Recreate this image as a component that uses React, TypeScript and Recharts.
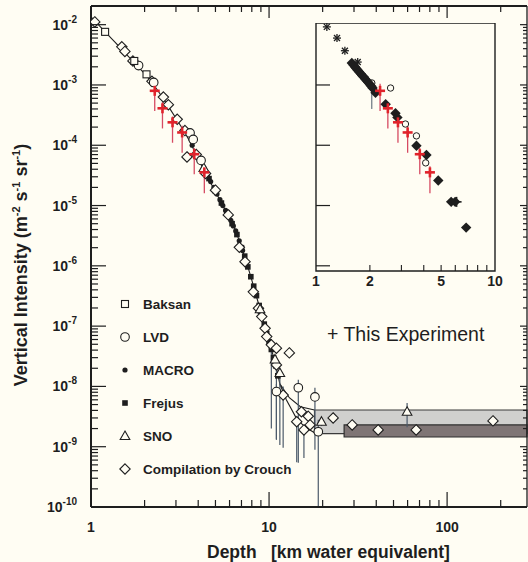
import React from 'react';
import { ComposedChart, Scatter, Line, XAxis, YAxis, ErrorBar, ReferenceArea, Legend } from 'recharts';

const FONT = '"Liberation Sans", Arial, Helvetica, sans-serif';
const BG = '#fffdf3';
const INK = '#1e1e1e';
const RED = '#e0232b';
const RED_BAR = '#d64a62';
const BAR = '#4c5a6a';

// ---------- axes ----------
const X_DOMAIN = [1, 281];
const Y_DOMAIN = [1e-10, 0.0204];
const X_TICKS = [1, 2, 3, 4, 5, 6, 7, 8, 9, 10, 20, 30, 40, 50, 60, 70, 80, 90, 100, 200];
const X_LABELS = [1, 10, 100];
const Y_DECADES = [1e-10, 1e-9, 1e-8, 1e-7, 1e-6, 1e-5, 1e-4, 1e-3, 1e-2];
const MINOR_MULTS = [2, 3, 4, 5, 6, 7, 8, 9];
const Y_TICKS = [...Y_DECADES, ...Y_DECADES.slice(0, -1).flatMap((dec) => MINOR_MULTS.map((m) => m * dec))].sort((a, b) => a - b);

const INSET_X_DOMAIN = [1, 10];
const INSET_Y_DOMAIN = [8.2e-7, 0.01067];
const INSET_X_TICKS = [1, 2, 3, 4, 5, 6, 7, 8, 9, 10];
const INSET_X_LABELS = [1, 2, 5, 10];
const INSET_Y_TICKS = [1e-6, 1e-5, 1e-4, 1e-3];

// ---------- data (depth in km w.e., vertical intensity) ----------
const fitDepth = [1.0, 1.2, 1.5, 1.8, 2.2, 2.6, 3.0, 3.5, 4.0, 4.5, 5.0, 5.5, 6.0, 6.5, 7.0, 7.5, 8.0, 8.5, 9.0, 9.5, 10.0, 10.5, 11.0, 11.5];
const fitI = [1.35e-2, 7.6e-3, 3.8e-3, 2.15e-3, 1.1e-3, 5.4e-4, 2.8e-4, 1.32e-4, 6.0e-5, 3.0e-5, 1.7e-5, 1.0e-5, 6.2e-6, 3.8e-6, 2.0e-6, 1.1e-6, 5.8e-7, 3.1e-7, 1.7e-7, 9.5e-8, 5.6e-8, 3.4e-8, 2.0e-8, 1.1e-8];
const fitUpperDepth = [11.5, 13.0, 15.0, 18.0];
const fitUpperI = [1.1e-8, 6.5e-9, 4.6e-9, 4.06e-9];
const fitLowerDepth = [11.5, 12.5, 14.3, 16.0, 18.0];
const fitLowerI = [1.1e-8, 6.0e-9, 2.9e-9, 2.1e-9, 1.7e-9];

const bandLightDepth = [18, 281];
const bandLightI = [1.65e-9, 4.06e-9];
const bandDarkDepth = [26.4, 281];
const bandDarkI = [1.45e-9, 2.3e-9];

const baksanDepth = [1.2, 1.75, 2.05];
const baksanI = [7.6e-3, 2.5e-3, 1.5e-3];

const lvdDepth = [1.85, 2.25, 3.6, 3.75, 4.15, 11.0, 14.6, 18.1, 18.9];
const lvdI = [2.1e-3, 1.1e-3, 1.6e-4, 1.25e-4, 5.6e-5, 8.2e-9, 9.5e-9, 6.7e-9, 1.77e-9];
const lvdLow = [2.1e-3, 1.1e-3, 1.6e-4, 1.25e-4, 5.6e-5, 1.3e-9, 5.4e-10, 8.9e-10, 1.0e-10];
const lvdHigh = [2.1e-3, 1.1e-3, 1.6e-4, 1.25e-4, 5.6e-5, 1.1e-8, 1.29e-8, 9.5e-9, 2.8e-9];

const macroDepth = [3.7, 3.9, 4.1, 4.3, 4.5, 4.7, 4.9, 5.1, 5.3, 5.5, 5.7, 5.9, 6.1, 6.3, 6.5, 6.8, 7.1];
const macroI = [1.0e-4, 7.5e-5, 5.5e-5, 4.2e-5, 3.2e-5, 2.5e-5, 2.0e-5, 1.55e-5, 1.25e-5, 1.0e-5, 8.3e-6, 6.9e-6, 5.7e-6, 4.6e-6, 3.8e-6, 2.6e-6, 1.8e-6];

const frejusDepth = [4.6, 5.0, 5.4, 5.8, 6.2, 6.6, 7.0, 7.3, 7.6, 7.9, 8.2, 8.5, 8.8, 9.1, 9.4, 9.7, 10.0, 10.3, 10.6, 10.9, 11.2];
const frejusI = [2.8e-5, 1.75e-5, 1.1e-5, 7.6e-6, 5.0e-6, 3.3e-6, 2.0e-6, 1.45e-6, 9.6e-7, 6.6e-7, 4.6e-7, 3.2e-7, 2.2e-7, 1.55e-7, 1.08e-7, 7.6e-8, 5.5e-8, 4.1e-8, 3.0e-8, 2.2e-8, 1.5e-8];

const snoDepth = [4.3, 8.9, 10.8, 11.5, 19.7, 59.6];
const snoI = [4.2e-5, 1.9e-7, 2.8e-8, 1.67e-8, 2.6e-9, 3.8e-9];
const snoLow = [4.2e-5, 1.9e-7, 2.8e-8, 1.07e-9, 2.2e-9, 2.1e-9];
const snoHigh = [4.2e-5, 1.9e-7, 2.8e-8, 1.67e-8, 3.0e-9, 5.3e-9];

const crouchDepth = [1.05, 1.49, 1.55, 1.72, 2.2, 2.55, 2.72, 3.05, 3.37, 3.46, 3.9, 4.4, 5.0, 5.9, 6.81, 7.33, 8.16, 8.72, 9.1, 9.5, 9.7, 10.3, 11.0, 11.0, 12.0, 13.0, 14.3, 15.2, 15.7, 16.6, 17.0, 22.9, 29.3, 41, 67, 181];
const crouchI = [1.11e-2, 4.3e-3, 3.6e-3, 2.5e-3, 1.15e-3, 6.3e-4, 4.7e-4, 2.7e-4, 1.75e-4, 6.4e-5, 7.0e-5, 3.4e-5, 1.8e-5, 7.0e-6, 2.03e-6, 1.17e-6, 3.7e-7, 1.98e-7, 1.44e-7, 9.2e-8, 6.7e-8, 4.9e-8, 4.3e-8, 2.27e-8, 7.2e-9, 3.6e-8, 2.6e-9, 3.8e-9, 1.9e-9, 3.2e-9, 2.3e-9, 3.0e-9, 2.3e-9, 1.9e-9, 1.9e-9, 2.68e-9];
const crouchLow = [1.11e-2, 4.3e-3, 3.6e-3, 2.5e-3, 1.15e-3, 6.3e-4, 4.7e-4, 2.7e-4, 1.75e-4, 6.4e-5, 7.0e-5, 3.4e-5, 1.8e-5, 7.0e-6, 2.03e-6, 1.17e-6, 3.7e-7, 1.98e-7, 1.44e-7, 9.2e-8, 6.7e-8, 2.0e-9, 4.3e-8, 1.33e-9, 9.6e-10, 3.6e-8, 5.5e-10, 3.8e-9, 6.5e-10, 3.2e-9, 2.3e-9, 3.0e-9, 2.3e-9, 1.9e-9, 1.9e-9, 2.68e-9];
const crouchHigh = [1.11e-2, 4.3e-3, 3.6e-3, 2.5e-3, 1.15e-3, 6.3e-4, 4.7e-4, 2.7e-4, 1.75e-4, 6.4e-5, 7.0e-5, 3.4e-5, 1.8e-5, 7.0e-6, 2.03e-6, 1.17e-6, 3.7e-7, 1.98e-7, 1.44e-7, 9.2e-8, 6.7e-8, 4.9e-8, 4.3e-8, 2.27e-8, 1.0e-8, 3.6e-8, 2.6e-9, 3.8e-9, 1.9e-9, 3.2e-9, 2.3e-9, 3.0e-9, 2.3e-9, 1.9e-9, 1.9e-9, 2.68e-9];

const thisDepth = [2.28, 2.52, 2.87, 3.25, 3.8, 4.33];
const thisI = [8.0e-4, 4.1e-4, 2.4e-4, 1.63e-4, 7.1e-5, 3.55e-5];
const thisLow = [3.7e-4, 1.9e-4, 1.1e-4, 7.5e-5, 3.3e-5, 1.6e-5];
const thisHigh = [1.05e-3, 5.2e-4, 3.0e-4, 2.1e-4, 9.0e-5, 4.5e-5];

// inset series
const insetStarDepth = [1.15, 1.31, 1.45, 1.71];
const insetStarI = [9.2e-3, 6.0e-3, 3.7e-3, 2.4e-3];
const insetDiamondDepth = [1.585, 1.62, 1.65, 1.68, 1.71, 1.74, 1.78, 1.81, 1.85, 1.88, 1.92, 1.96, 2.0, 2.04, 2.07, 2.15, 2.45, 2.78, 2.85, 3.64, 4.14, 4.82, 5.69, 5.99, 6.9];
const insetDiamondI = [2.32e-3, 2.15e-3, 2.0e-3, 1.88e-3, 1.76e-3, 1.66e-3, 1.53e-3, 1.44e-3, 1.35e-3, 1.27e-3, 1.18e-3, 1.1e-3, 1.02e-3, 9.5e-4, 8.9e-4, 7.4e-4, 4.8e-4, 3.4e-4, 2.9e-4, 9.8e-5, 6.9e-5, 2.6e-5, 1.15e-5, 1.15e-5, 4.3e-6];
const insetCircleDepth = [2.05, 2.61, 3.16, 3.64, 4.1];
const insetCircleI = [1.08e-3, 8.9e-4, 2.25e-4, 1.43e-4, 5.1e-5];
const insetCircleLow = [4.0e-4, 8.9e-4, 2.25e-4, 1.43e-4, 5.1e-5];
const insetPlusDepth = [6.1];
const insetPlusI = [1.15e-5];

const LEGEND_NAMES = ['Baksan', 'LVD', 'MACRO', 'Frejus', 'SNO', 'Compilation by Crouch'];
const EXPERIMENT_LABEL = '+ This Experiment';

// ---------- helpers ----------
const rows = (d: number[], v: number[], lo?: number[], hi?: number[]) =>
  d.map((x, k) => ({ d: x, i: v[k], e: [lo ? v[k] - lo[k] : 0, hi ? hi[k] - v[k] : 0] }));

const isDecade = (v: number) => Math.abs(Math.log10(v) - Math.round(Math.log10(v))) < 1e-6;

// ---------- marker shapes ----------
const openSquare = (p: any) => <rect x={p.cx - 3.5} y={p.cy - 3.5} width={7} height={7} fill={BG} stroke={INK} strokeWidth={1.1} />;
const openCircle = (p: any) => <circle cx={p.cx} cy={p.cy} r={4.3} fill={BG} stroke={INK} strokeWidth={1.1} />;
const smallCircle = (p: any) => <circle cx={p.cx} cy={p.cy} r={3.2} fill={BG} stroke={INK} strokeWidth={1} />;
const dot = (p: any) => <circle cx={p.cx} cy={p.cy} r={2.6} fill={INK} />;
const filledSquare = (p: any) => <rect x={p.cx - 2.8} y={p.cy - 2.8} width={5.6} height={5.6} fill={INK} />;
const triangle = (p: any) => (
  <path d={`M${p.cx},${p.cy - 5} L${p.cx + 4.8},${p.cy + 3.5} L${p.cx - 4.8},${p.cy + 3.5} Z`} fill={BG} stroke={INK} strokeWidth={1.1} />
);
const diamond = (p: any) => (
  <path d={`M${p.cx},${p.cy - 5.2} L${p.cx + 5.2},${p.cy} L${p.cx},${p.cy + 5.2} L${p.cx - 5.2},${p.cy} Z`} fill={BG} stroke={INK} strokeWidth={1.1} />
);
const filledDiamond = (p: any) => (
  <path d={`M${p.cx},${p.cy - 5.2} L${p.cx + 5.2},${p.cy} L${p.cx},${p.cy + 5.2} L${p.cx - 5.2},${p.cy} Z`} fill={INK} />
);
const redPlus = (p: any) => (
  <g>
    <line x1={p.cx - 5} x2={p.cx + 5} y1={p.cy} y2={p.cy} stroke={RED} strokeWidth={2.6} />
    <line x1={p.cx} x2={p.cx} y1={p.cy - 5} y2={p.cy + 5} stroke={RED} strokeWidth={2.6} />
  </g>
);
const blackPlus = (p: any) => (
  <g>
    <line x1={p.cx - 5} x2={p.cx + 5} y1={p.cy} y2={p.cy} stroke={INK} strokeWidth={1.6} />
    <line x1={p.cx} x2={p.cx} y1={p.cy - 5} y2={p.cy + 5} stroke={INK} strokeWidth={1.6} />
  </g>
);
const asterisk = (p: any) => (
  <g stroke={INK} strokeWidth={1.3}>
    <line x1={p.cx - 4} x2={p.cx + 4} y1={p.cy} y2={p.cy} />
    <line x1={p.cx} x2={p.cx} y1={p.cy - 4} y2={p.cy + 4} />
    <line x1={p.cx - 3} x2={p.cx + 3} y1={p.cy - 3} y2={p.cy + 3} />
    <line x1={p.cx - 3} x2={p.cx + 3} y1={p.cy + 3} y2={p.cy - 3} />
  </g>
);
const LEGEND_SHAPES = [openSquare, openCircle, dot, filledSquare, triangle, diamond];

// ---------- ticks ----------
function LeftTick(props: any) {
  const { x, y, payload } = props;
  const v = payload.value;
  const major = isDecade(v);
  return (
    <g>
      <line x1={x} y1={y} x2={x + (major ? 15 : 7)} y2={y} stroke={INK} strokeWidth={1.2} />
      {major && (
        <text x={x - 14} y={y + 5} textAnchor="end" fill={INK} fontFamily={FONT} fontWeight="bold">
          <tspan fontSize={14}>10</tspan>
          <tspan fontSize={10} dy={-7}>{String(Math.round(Math.log10(v)))}</tspan>
        </text>
      )}
    </g>
  );
}
function RightTick(props: any) {
  const { x, y, payload } = props;
  const major = isDecade(payload.value);
  return <line x1={x} y1={y} x2={x - (major ? 7 : 4)} y2={y} stroke={INK} strokeWidth={1.2} />;
}
function BottomTick(props: any) {
  const { x, y, payload } = props;
  const v = payload.value;
  const major = isDecade(v);
  return (
    <g>
      <line x1={x} y1={y} x2={x} y2={y - (major ? 15 : 7)} stroke={INK} strokeWidth={1.2} />
      {X_LABELS.includes(v) && (
        <text x={x} y={y + 25} textAnchor="middle" fill={INK} fontFamily={FONT} fontWeight="bold" fontSize={14}>
          {String(v)}
        </text>
      )}
    </g>
  );
}
function TopTick(props: any) {
  const { x, y, payload } = props;
  const major = isDecade(payload.value);
  return <line x1={x} y1={y} x2={x} y2={y + (major ? 12 : 6)} stroke={INK} strokeWidth={1.2} />;
}
function InsetBottomTick(props: any) {
  const { x, y, payload } = props;
  const v = payload.value;
  return (
    <g>
      {!isDecade(v) && <line x1={x} y1={y} x2={x} y2={y - 6} stroke={INK} strokeWidth={1.1} />}
      {INSET_X_LABELS.includes(v) && (
        <text x={x} y={y + 15} textAnchor="middle" fill={INK} fontFamily={FONT} fontWeight="bold" fontSize={14}>
          {String(v)}
        </text>
      )}
    </g>
  );
}
function InsetLeftTick(props: any) {
  const { x, y } = props;
  return <line x1={x} y1={y} x2={x + 14} y2={y} stroke={INK} strokeWidth={1.2} />;
}

// ---------- titles & legend ----------
function XTitle() {
  return (
    <g fontFamily={FONT} fontWeight="bold" fontSize={17.5} fill={INK}>
      <text x={207} y={558}>Depth</text>
      <text x={271} y={558}>[km water equivalent]</text>
    </g>
  );
}
function YTitle() {
  return (
    <text transform="translate(27,265) rotate(-90)" textAnchor="middle" fontFamily={FONT} fontWeight="bold" fontSize={18} fill={INK}>
      <tspan>Vertical Intensity  (m</tspan>
      <tspan fontSize={11} dy={-7}>-2</tspan>
      <tspan dy={7}> s</tspan>
      <tspan fontSize={11} dy={-7}>-1</tspan>
      <tspan dy={7}> sr</tspan>
      <tspan fontSize={11} dy={-7}>-1</tspan>
      <tspan dy={7}>)</tspan>
    </text>
  );
}
function LegendLayer() {
  return (
    <svg width={528} height={562} style={{ position: 'absolute', left: 0, top: 0, pointerEvents: 'none' }}>
      {LEGEND_NAMES.map((name, k) => {
        const cy = 304 + 33 * k;
        return (
          <g key={name}>
            {LEGEND_SHAPES[k]({ cx: 125, cy })}
            <text x={143} y={cy + 5} fontFamily={FONT} fontWeight="bold" fontSize={13.5} fill={INK}>
              {name}
            </text>
          </g>
        );
      })}
      <text x={327} y={341} fontFamily={FONT} fontSize={19.5} fill={INK}>
        {EXPERIMENT_LABEL}
      </text>
    </svg>
  );
}

// ---------- chart ----------
export default function App() {
  const fit = rows(fitDepth, fitI);
  const fitUp = rows(fitUpperDepth, fitUpperI);
  const fitLo = rows(fitLowerDepth, fitLowerI);
  const baksan = rows(baksanDepth, baksanI);
  const lvd = rows(lvdDepth, lvdI, lvdLow, lvdHigh);
  const macro = rows(macroDepth, macroI);
  const frejus = rows(frejusDepth, frejusI);
  const sno = rows(snoDepth, snoI, snoLow, snoHigh);
  const crouch = rows(crouchDepth, crouchI, crouchLow, crouchHigh);
  const mine = rows(thisDepth, thisI, thisLow, thisHigh);

  const inStar = rows(insetStarDepth, insetStarI);
  const inDia = rows(insetDiamondDepth, insetDiamondI);
  const inCirc = rows(insetCircleDepth, insetCircleI, insetCircleLow, insetCircleI);
  const inPlus = rows(insetPlusDepth, insetPlusI);

  const axisLine = { stroke: INK, strokeWidth: 2 };

  return (
    <div style={{ position: 'absolute', left: 0, top: 0, width: 528, height: 562, background: BG, overflow: 'hidden' }}>
      <ComposedChart width={528} height={562} margin={{ top: 5, right: 0, bottom: 0, left: 0 }}>
        <XAxis
          dataKey="d" type="number" scale="log" domain={X_DOMAIN} allowDataOverflow
          ticks={X_TICKS} interval={0} tick={BottomTick} tickLine={false} tickSize={0} tickMargin={0}
          height={55} axisLine={axisLine} label={<XTitle />}
        />
        <XAxis
          xAxisId="t" orientation="top" dataKey="d" type="number" scale="log" domain={X_DOMAIN} allowDataOverflow
          ticks={X_TICKS} interval={0} tick={TopTick} tickLine={false} tickSize={0} tickMargin={0}
          height={1} axisLine={axisLine}
        />
        <YAxis
          dataKey="i" type="number" scale="log" domain={Y_DOMAIN} allowDataOverflow
          ticks={Y_TICKS} interval={0} tick={LeftTick} tickLine={false} tickSize={0} tickMargin={0}
          width={91} axisLine={axisLine} label={<YTitle />}
        />
        <YAxis
          yAxisId="r" orientation="right" dataKey="i" type="number" scale="log" domain={Y_DOMAIN} allowDataOverflow
          ticks={Y_TICKS} interval={0} tick={RightTick} tickLine={false} tickSize={0} tickMargin={0}
          width={1} axisLine={{ stroke: INK, strokeWidth: 1.3 }}
        />

        <ReferenceArea x1={bandLightDepth[0]} x2={bandLightDepth[1]} y1={bandLightI[0]} y2={bandLightI[1]} fill="#d0d0ce" fillOpacity={1} stroke="#3a3a3a" strokeWidth={1.2} />
        <ReferenceArea x1={bandDarkDepth[0]} x2={bandDarkDepth[1]} y1={bandDarkI[0]} y2={bandDarkI[1]} fill="#7f7575" fillOpacity={1} stroke="#2e2e2e" strokeWidth={1.2} />

        <Line xAxisId="t" yAxisId="r" data={fit} dataKey="i" type="monotone" stroke={INK} strokeWidth={1.1} dot={false} isAnimationActive={false} />
        <Line xAxisId="t" yAxisId="r" data={fitUp} dataKey="i" type="linear" stroke={INK} strokeWidth={1.1} dot={false} isAnimationActive={false} />
        <Line xAxisId="t" yAxisId="r" data={fitLo} dataKey="i" type="linear" stroke={INK} strokeWidth={1.1} dot={false} isAnimationActive={false} />

        <Scatter name="Frejus" data={frejus} dataKey="i" shape={filledSquare} isAnimationActive={false} />
        <Scatter name="MACRO" data={macro} dataKey="i" shape={dot} isAnimationActive={false} />
        <Scatter name="Compilation by Crouch" data={crouch} dataKey="i" shape={diamond} isAnimationActive={false}>
          <ErrorBar dataKey="e" direction="y" width={0} stroke={BAR} strokeWidth={1.2} />
        </Scatter>
        <Scatter name="SNO" data={sno} dataKey="i" shape={triangle} isAnimationActive={false}>
          <ErrorBar dataKey="e" direction="y" width={0} stroke={BAR} strokeWidth={1.2} />
        </Scatter>
        <Scatter name="LVD" data={lvd} dataKey="i" shape={openCircle} isAnimationActive={false}>
          <ErrorBar dataKey="e" direction="y" width={0} stroke={BAR} strokeWidth={1.2} />
        </Scatter>
        <Scatter name="Baksan" data={baksan} dataKey="i" shape={openSquare} isAnimationActive={false} />
        <Scatter name="This Experiment" data={mine} dataKey="i" shape={redPlus} isAnimationActive={false}>
          <ErrorBar dataKey="e" direction="y" width={0} stroke={RED_BAR} strokeWidth={1.3} />
        </Scatter>
        <Legend layout="vertical" align="center" verticalAlign="middle" content={() => <LegendLayer />} wrapperStyle={{ left: 0, top: 0, width: 528, height: 562 }} />
      </ComposedChart>

      <div style={{ position: 'absolute', left: 308, top: 23 }}>
        <ComposedChart width={199} height={270} margin={{ top: 0, right: 12, bottom: 0, left: 7 }}>
          <ReferenceArea x1={INSET_X_DOMAIN[0]} x2={INSET_X_DOMAIN[1]} y1={INSET_Y_DOMAIN[0]} y2={INSET_Y_DOMAIN[1]} fill="none" stroke={INK} strokeWidth={1.4} />
          <XAxis
            dataKey="d" type="number" scale="log" domain={INSET_X_DOMAIN} allowDataOverflow
            ticks={INSET_X_TICKS} interval={0} tick={InsetBottomTick} tickLine={false} tickSize={0} tickMargin={0}
            height={22} axisLine={false}
          />
          <YAxis
            dataKey="i" type="number" scale="log" domain={INSET_Y_DOMAIN} allowDataOverflow
            ticks={INSET_Y_TICKS} interval={0} tick={InsetLeftTick} tickLine={false} tickSize={0} tickMargin={0}
            width={1} axisLine={false}
          />
          <Scatter data={inStar} dataKey="i" shape={asterisk} isAnimationActive={false} />
          <Scatter data={inCirc} dataKey="i" shape={smallCircle} isAnimationActive={false}>
            <ErrorBar dataKey="e" direction="y" width={0} stroke={BAR} strokeWidth={1} />
          </Scatter>
          <Scatter data={inDia} dataKey="i" shape={filledDiamond} isAnimationActive={false} />
          <Scatter data={inPlus} dataKey="i" shape={blackPlus} isAnimationActive={false} />
          <Scatter data={mine} dataKey="i" shape={redPlus} isAnimationActive={false}>
            <ErrorBar dataKey="e" direction="y" width={0} stroke={RED_BAR} strokeWidth={1.3} />
          </Scatter>
        </ComposedChart>
      </div>
    </div>
  );
}
